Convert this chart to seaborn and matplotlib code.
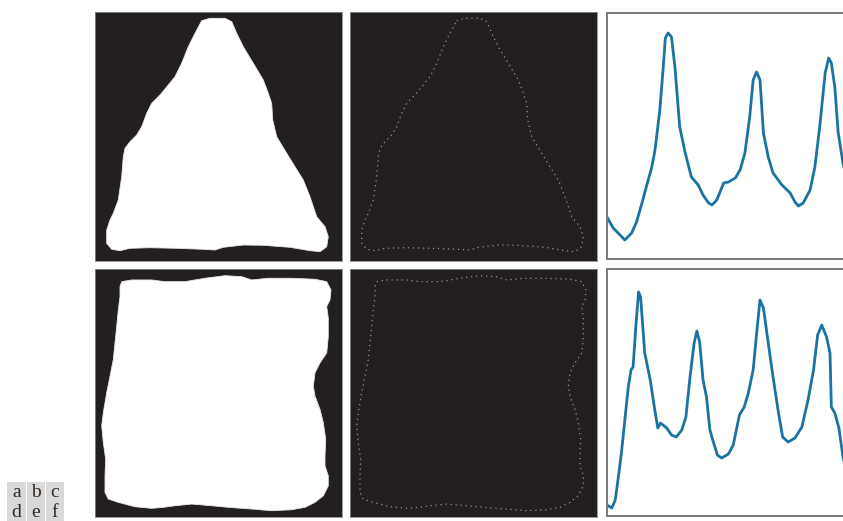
import numpy as np
import pandas as pd
import matplotlib
matplotlib.use("Agg")
import matplotlib.pyplot as plt
from matplotlib.patches import Rectangle
import seaborn as sns

# -------------------------------
# Data
# -------------------------------
# triangle-like region outline (image pixels, y downwards)
triangle_x = [106.7, 115, 130, 136.7, 141.7, 148.3, 158.3, 168.3, 173.3, 176.7, 177.7, 181.7,
              191.7, 200, 208.3, 215, 221.7, 230, 233.3, 231.7, 225, 215, 195, 168.3, 148.3,
              128.3, 120, 108.3, 81.7, 55, 35, 25, 16.7, 11.7, 11.7, 15, 18.3, 23.3, 26.7,
              28.3, 30, 35, 41.7, 46.7, 51.7, 56.7, 65, 73.3, 80, 86.7, 93.3, 100]
triangle_y = [8.7, 6.3, 6.3, 9.7, 21.3, 34.7, 51.3, 68, 81.3, 91.3, 108, 124.7,
              141.3, 154.7, 168, 184.7, 204.7, 214.7, 224.7, 234.7, 239.7, 238.7, 235.3, 233.3, 233,
              235.3, 238, 237.3, 236.3, 235.7, 236.3, 238.7, 237.3, 231.3, 218, 208, 201.3, 188, 164.7,
              144.7, 136.3, 129.7, 123, 114.7, 101.3, 91.3, 83, 73, 64.7, 51.3, 34.7, 21.3]

# square-like region outline
square_x = [26.7, 36.7, 56.7, 70, 90, 110, 130, 146.7, 156.7, 173.3, 196.7, 220, 231.7, 236,
            235, 231.7, 233.3, 233.3, 231.7, 225, 220, 218.3, 220, 225, 228.3, 230.7, 230, 230,
            233.3, 233.3, 228.3, 220, 210, 196.7, 176.7, 156.7, 133.3, 116.7, 96.7, 80, 68.3,
            56.7, 40, 23.3, 13.3, 10, 10, 10.7, 8.3, 6.7, 8.3, 11.7, 15, 18.3, 20, 21.7, 23.3,
            25, 25]
square_y = [12.7, 11, 11, 12.7, 12.7, 9.3, 6.7, 7.7, 11, 9.3, 9.3, 10.3, 12.7, 21,
            31, 37.7, 49.3, 67.7, 84.3, 94.3, 104.3, 117.7, 127.7, 141, 154.3, 171, 187.7, 197.7,
            207.7, 217.7, 227.7, 234.3, 239.3, 241.7, 242.7, 241, 239.3, 237.7, 236, 237.7, 239.3,
            240.3, 238.7, 234.3, 231, 224.3, 207.7, 191, 174.3, 157.7, 144.3, 124.3, 107.7, 91,
            74.3, 57.7, 41, 27.7, 17.7]

# signatures: distance vs angle (degrees)
tri_angle = [0, 9, 19, 26, 36, 43, 51, 58, 65, 70, 77, 82, 85, 89, 94, 99, 106, 114, 123, 133,
             140, 148, 153, 160, 170, 177, 187, 194, 201, 208, 213, 218, 223, 228, 235, 242, 255,
             267, 274, 279, 286, 296, 303, 310, 318, 323, 327, 332, 337, 344, 352]
tri_r = [42, 31, 24, 19, 26, 37, 56, 74, 91, 109, 149, 192, 221, 226, 222, 192, 132, 106, 82, 74,
         64, 56, 54, 59, 76, 77, 81, 89, 106, 142, 179, 187, 179, 126, 102, 86, 74,
         66, 57, 53, 56, 69, 92, 132, 186, 201, 196, 172, 126, 96, 70]

sq_angle = [0, 7, 12, 16, 21, 26, 31, 35, 38, 42, 46, 49, 55, 63, 69, 74, 78, 87, 94, 101, 109,
            115, 121, 127, 131, 135, 140, 145, 150, 155, 161, 167, 177, 184, 193, 200, 206, 213,
            219, 223, 228, 235, 242, 250, 256, 264, 274, 284, 293, 301, 307, 313, 320, 325, 327,
            332, 338, 344, 352]
sq_r = [11, 8, 16, 36, 63, 96, 129, 146, 149, 189, 224, 219, 163, 136, 109, 88, 93, 88, 81, 79, 86,
        99, 139, 173, 185, 174, 136, 119, 86, 74, 61, 58, 62, 71, 101, 109, 123, 146,
        189, 216, 208, 173, 139, 103, 79, 74, 78, 89, 116, 146, 181, 191, 179, 163, 109,
        103, 88, 59, 35]

panel_labels = [["a", "b", "c"], ["d", "e", "f"]]

img_bg = "#231f20"
line_color = "#1a73a3"

# -------------------------------
# Figure layout
# -------------------------------
W, H = 843, 521
sns.set_style("white")
fig = plt.figure(figsize=(W / 100, H / 100), dpi=100)


def px_axes(x0, y0, x1, y1):
    return fig.add_axes([x0 / W, 1 - y1 / H, (x1 - x0) / W, (y1 - y0) / H])


def image_panel(ax, xs, ys, filled):
    ax.set_facecolor(img_bg)
    if filled:
        ax.fill(xs, ys, color="white", lw=0.6, ec="#e8e8e8")
    else:
        ax.plot(list(xs) + [xs[0]], list(ys) + [ys[0]], color="#949494",
                lw=0.9, linestyle=(0, (1, 3)))
    ax.set_xlim(0, 247)
    ax.set_ylim(249, 0)
    ax.set_xticks([])
    ax.set_yticks([])
    for s in ax.spines.values():
        s.set_color("#8a8a8a")
        s.set_linewidth(0.6)


def signature_panel(ax, ang, r, top):
    df = pd.DataFrame({"angle": ang, "r": r})
    sns.lineplot(data=df, x="angle", y="r", ax=ax, color=line_color, linewidth=2, sort=False)
    ax.set_xlim(0, 360)
    ax.set_ylim(0, top)
    ax.set_xticks([])
    ax.set_yticks([])
    ax.set_xlabel("")
    ax.set_ylabel("")
    for s in ax.spines.values():
        s.set_color("#7a7a7a")
        s.set_linewidth(1.4)


ax_a = px_axes(95, 12, 342, 261)
ax_b = px_axes(350, 12, 597, 261)
ax_c = px_axes(607, 13, 854, 259)
ax_d = px_axes(95, 269, 342, 517)
ax_e = px_axes(350, 269, 597, 517)
ax_f = px_axes(607, 269, 854, 516)

image_panel(ax_a, triangle_x, triangle_y, True)
image_panel(ax_b, triangle_x, triangle_y, False)
image_panel(ax_d, square_x, square_y, True)
image_panel(ax_e, square_x, square_y, False)
signature_panel(ax_c, tri_angle, tri_r, 246)
signature_panel(ax_f, sq_angle, sq_r, 247)

# -------------------------------
# Panel key (bottom left)
# -------------------------------
col_x = [(7, 25.5), (26.5, 44.5), (45.5, 63.5)]
row_y = [(482, 501.5), (502, 521)]
for i, row in enumerate(panel_labels):
    for j, lab in enumerate(row):
        x0, x1 = col_x[j]
        y0, y1 = row_y[i]
        fig.add_artist(Rectangle((x0 / W, 1 - y1 / H), (x1 - x0) / W, (y1 - y0) / H,
                                 transform=fig.transFigure, facecolor="#d9d9d9",
                                 edgecolor="none"))
        fig.text((x0 + x1) / 2 / W, 1 - ((y0 + y1) / 2 + 1) / H, lab,
                 ha="center", va="center", fontsize=14, color="#33271f",
                 family=["Liberation Serif", "DejaVu Serif"])

fig.savefig("out.png", dpi=100)
